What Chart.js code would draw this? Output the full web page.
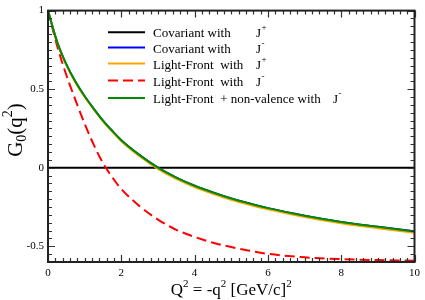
<!DOCTYPE html>
<html><head><meta charset="utf-8">
<script src="https://cdn.jsdelivr.net/npm/chart.js@4/dist/chart.umd.min.js"></script>
<style>html,body{margin:0;padding:0;background:#fff}#wrap{width:425px;height:300px;position:relative}</style>
</head><body><div id="wrap"><canvas id="c"></canvas></div>
<script>
// ---- data ----
const qSquared      = [0, 0.25, 0.5, 0.75, 1, 1.25, 1.5, 1.75, 2, 2.5, 3, 3.5, 4, 4.5, 5, 5.5, 6, 7, 8, 9, 10];
const covJplus      = [0, 0, 0, 0, 0, 0, 0, 0, 0, 0, 0, 0, 0, 0, 0, 0, 0, 0, 0, 0, 0];
const covJminus     = [1, 0.80, 0.658, 0.547, 0.455, 0.375, 0.30, 0.235, 0.175, 0.08, 0.0, -0.063, -0.115, -0.158, -0.196, -0.228, -0.257, -0.305, -0.345, -0.376, -0.405];
const lfJplus       = [1, 0.799, 0.655, 0.543, 0.451, 0.371, 0.295, 0.23, 0.169, 0.073, -0.007, -0.071, -0.123, -0.166, -0.204, -0.236, -0.265, -0.313, -0.353, -0.385, -0.414];
const lfJminus      = [1, 0.775, 0.59, 0.43, 0.28, 0.145, 0.03, -0.06, -0.135, -0.245, -0.33, -0.395, -0.44, -0.477, -0.505, -0.528, -0.548, -0.57, -0.582, -0.588, -0.592];
const lfNonValJminus= [1, 0.80, 0.658, 0.547, 0.455, 0.375, 0.30, 0.235, 0.175, 0.08, 0.0, -0.063, -0.115, -0.158, -0.196, -0.228, -0.257, -0.305, -0.345, -0.376, -0.406];
const xTickLabels = [0, 2, 4, 6, 8, 10];
const yTickLabels = [-0.5, 0, 0.5, 1];
const legendTexts = ["Covariant with", "Covariant with", "Light-Front  with", "Light-Front  with", "Light-Front  + non-valence with"];
const legendSup   = ["+", "-", "+", "-", "-"];

const SERIF = '"Liberation Serif","Times New Roman",serif';
const pts = arr => qSquared.map((q, i) => ({x: q, y: arr[i]}));

const series = [
  {label: legendTexts[0], data: pts(covJplus), borderColor: '#000000', dash: [], order: 4},
  {label: legendTexts[1], data: pts(covJminus), borderColor: '#0000ff', dash: [], order: 2},
  {label: legendTexts[2], data: pts(lfJplus), borderColor: '#ffa500', dash: [], order: 1},
  {label: legendTexts[3], data: pts(lfJminus), borderColor: '#ff0000', dash: [10, 5], order: 3},
  {label: legendTexts[4], data: pts(lfNonValJminus), borderColor: '#008b00', dash: [], order: 0}
];

function drawRich(ctx, parts, x, y) {
  let cx = x;
  for (const [t, s, dy] of parts) {
    ctx.font = s + 'px ' + SERIF;
    ctx.fillText(t, cx, y + dy);
    cx += ctx.measureText(t).width;
  }
  return cx - x;
}
function richWidth(ctx, parts) {
  let w = 0;
  for (const [t, s] of parts) { ctx.font = s + 'px ' + SERIF; w += ctx.measureText(t).width; }
  return w;
}

const decor = {
  id: 'decor',
  afterDatasetsDraw(chart) {
    const {ctx, chartArea: a, scales: {x, y}} = chart;
    ctx.save();
    ctx.strokeStyle = '#333'; ctx.lineWidth = 1.2;
    ctx.beginPath();
    for (let i = 0; i <= 50; i++) {
      const px = Math.round(x.getPixelForValue(i * 0.2)) + 0.5;
      const len = (i % 10 === 0) ? 7 : 4;
      ctx.moveTo(px, a.bottom); ctx.lineTo(px, a.bottom - len);
      ctx.moveTo(px, a.top); ctx.lineTo(px, a.top + len);
    }
    for (let i = -12; i <= 20; i++) {
      const py = Math.round(y.getPixelForValue(i * 0.05)) + 0.5;
      const len = (i % 10 === 0) ? 7 : 4;
      ctx.moveTo(a.left, py); ctx.lineTo(a.left + len, py);
      ctx.moveTo(a.right, py); ctx.lineTo(a.right - len, py);
    }
    ctx.stroke();
    ctx.strokeStyle = '#222'; ctx.lineWidth = 2;
    ctx.strokeRect(a.left, a.top, a.right - a.left, a.bottom - a.top);

    // legend
    const rows = [32.3, 47.5, 63.5, 80.5, 98];
    const jx = [256, 256, 256, 256, 333];
    ctx.fillStyle = '#000';
    ctx.textBaseline = 'alphabetic';
    ctx.textAlign = 'left';
    series.forEach((s, i) => {
      const ly = rows[i];
      ctx.strokeStyle = s.borderColor; ctx.lineWidth = 2; ctx.setLineDash(s.dash);
      ctx.beginPath(); ctx.moveTo(108, ly); ctx.lineTo(145, ly); ctx.stroke();
      ctx.setLineDash([]);
      ctx.font = '13px ' + SERIF;
      ctx.fillText(legendTexts[i], 153, ly + 5);
      ctx.fillText('J', jx[i], ly + 5);
      ctx.font = '9px ' + SERIF;
      ctx.fillText(legendSup[i], jx[i] + 5.5, ly - 2);
    });

    // x title
    const xt = [['Q', 17, 0], ['2', 11, -8], [' = -q', 17, 0], ['2', 11, -8], [' [GeV/c]', 17, 0], ['2', 11, -8]];
    const xw = richWidth(ctx, xt);
    drawRich(ctx, xt, (a.left + a.right) / 2 - xw / 2, 295);

    // y title
    const yt = [['G', 21, 0], ['0', 14, 4], ['(q', 21, 0], ['2', 14, -10], [')', 21, 0]];
    const yw = richWidth(ctx, yt);
    ctx.translate(22, 130);
    ctx.rotate(-Math.PI / 2);
    drawRich(ctx, yt, -yw / 2, 0);
    ctx.restore();
  }
};

new Chart(document.getElementById('c'), {
  type: 'line',
  data: {
    datasets: series.map(s => ({
      label: s.label, data: s.data, borderColor: s.borderColor, borderDash: s.dash,
      borderWidth: 2, pointRadius: 0, fill: false, order: s.order,
      cubicInterpolationMode: 'monotone'
    }))
  },
  options: {
    responsive: true, maintainAspectRatio: false, animation: false,
    layout: {padding: {top: 4, right: 8, left: 0, bottom: 0}},
    plugins: {legend: {display: false}, tooltip: {enabled: false}},
    scales: {
      x: {
        type: 'linear', min: 0, max: 10,
        grid: {display: false, drawTicks: false}, border: {display: false},
        afterBuildTicks: sc => { sc.ticks = xTickLabels.map(v => ({value: v})); },
        afterFit: sc => { sc.height = 38; },
        ticks: {padding: 5, color: '#000', font: {family: SERIF, size: 11}, maxRotation: 0,
          callback: v => String(v)}
      },
      y: {
        type: 'linear', min: -0.6, max: 1,
        grid: {display: false, drawTicks: false}, border: {display: false},
        afterBuildTicks: sc => { sc.ticks = yTickLabels.map(v => ({value: v})); },
        afterFit: sc => { sc.width = 48; },
        ticks: {padding: 4, color: '#000', font: {family: SERIF, size: 11},
          callback: v => String(v)}
      }
    }
  },
  plugins: [decor]
});
</script>
</body></html>
